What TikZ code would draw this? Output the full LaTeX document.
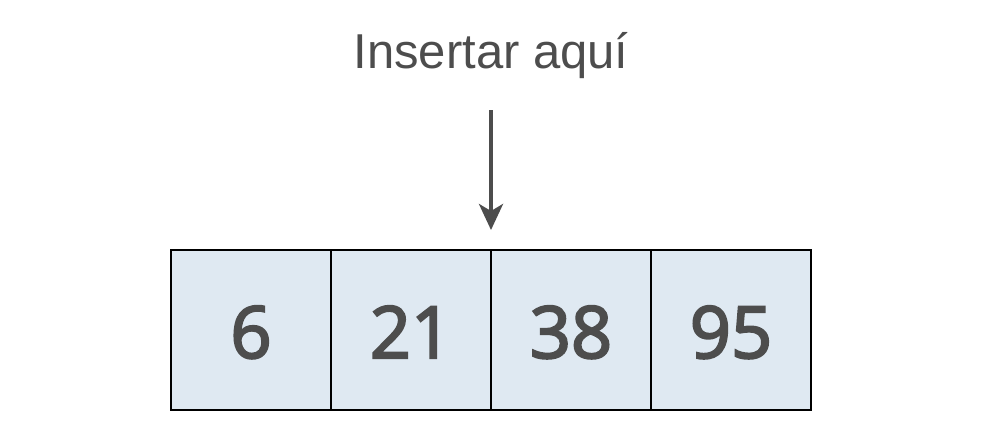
\documentclass[tikz,border=0pt]{standalone}
\usepackage{fontspec}
\setmainfont{Liberation Sans}
\newfontfamily\digitfont[FakeBold=3]{Open Sans}
\usetikzlibrary{arrows.meta}
\definecolor{cellfill}{HTML}{DFE9F2}
\definecolor{inkgray}{HTML}{4D4D4D}

\begin{document}
\begin{tikzpicture}[x=1pt,y=-1pt,line cap=butt,line join=miter,
  cell/.style={draw=black,line width=2pt,fill=cellfill,minimum width=160pt,minimum height=160pt,
    inner sep=0pt,text height=56pt,text depth=0pt,text=inkgray,font=\digitfont\fontsize{72}{82}\selectfont},
  pointer/.style={draw=inkgray,line width=4pt,-{Stealth[length=26pt,width=24pt,inset=7pt]}}]
\useasboundingbox (0,0) rectangle (982,442);
% array cells
\node[cell] (c6)  at (251,330) {6};
\node[cell] (c21) at (411,330) {21};
\node[cell] (c38) at (571,330) {38};
\node[cell] (c95) at (731,330) {95};
% label and arrow
\node[text=inkgray,font=\fontsize{49}{58}\selectfont,anchor=base] (lbl) at (491,68) {Insertar aquí};
\coordinate (from) at (491,110);
\coordinate (to) at (491,230);
\draw[pointer] (from) -- (to);
\end{tikzpicture}
\end{document}
